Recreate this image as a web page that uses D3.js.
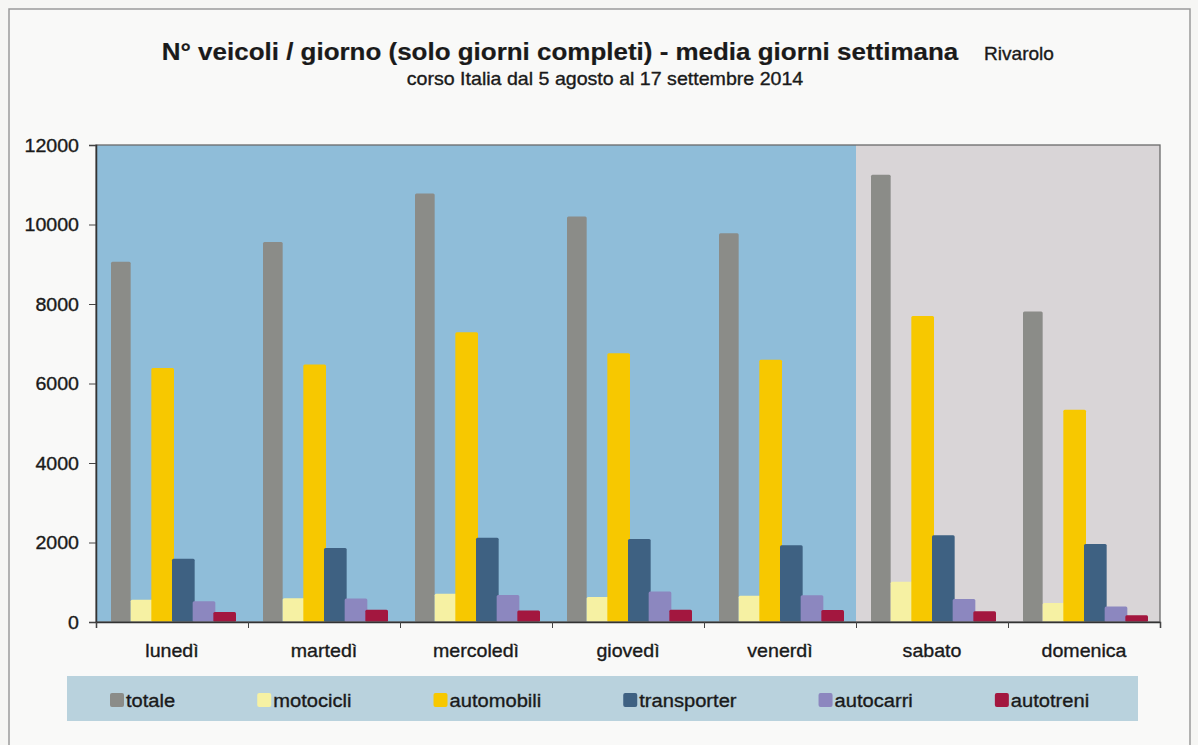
<!DOCTYPE html>
<html>
<head>
<meta charset="utf-8">
<script src="https://cdn.jsdelivr.net/npm/d3@7"></script>
<style>
  html, body { margin: 0; padding: 0; background: #f6f6f4; }
  svg { display: block; }
  text { font-family: "Liberation Sans", Arial, sans-serif; fill: #1a1a1a; stroke: #1a1a1a; stroke-width: 0.35px; }
</style>
</head>
<body>
<svg id="chart" width="1198" height="745"></svg>
<script>
// ---- data ----
const days = ["lunedì", "martedì", "mercoledì", "giovedì", "venerdì", "sabato", "domenica"];
const weekdays = ["lunedì", "martedì", "mercoledì", "giovedì", "venerdì"];
const seriesNames = ["totale", "motocicli", "automobili", "transporter", "autocarri", "autotreni"];
const totale      = [9060, 9560, 10780, 10200, 9780, 11250, 7810];
const motocicli   = [560, 600, 710, 630, 660, 1010, 480];
const automobili  = [6390, 6480, 7290, 6760, 6600, 7700, 5340];
const transporter = [1590, 1860, 2120, 2090, 1930, 2180, 1960];
const autocarri   = [520, 590, 680, 770, 670, 580, 390];
const autotreni   = [250, 310, 290, 310, 300, 270, 170];
const yTicks = [0, 2000, 4000, 6000, 8000, 10000, 12000];
const titleText = "N° veicoli / giorno (solo giorni completi) - media giorni settimana";
const titleSuffix = "Rivarolo";
const subtitleText = "corso Italia dal 5 agosto al 17 settembre 2014";

const seriesValues = [totale, motocicli, automobili, transporter, autocarri, autotreni];
const colors = ["#8b8c88", "#f6f1a3", "#f7c800", "#3e6182", "#8c87bf", "#a3173f"];

// ---- layout ----
const svg = d3.select("#chart");
const SX = 1.06; // horizontal stretch of the scanned text
const plot = { left: 96, right: 1160, top: 145, bottom: 622 };

function stext(parent, x, y, str, size, anchor, weight) {
  return parent.append("text")
    .attr("transform", `translate(${x},${y}) scale(${SX},1)`)
    .attr("text-anchor", anchor || "start")
    .attr("font-size", size)
    .attr("font-weight", weight || "normal")
    .text(str);
}

// frame
svg.append("rect").attr("x", 0).attr("y", 0).attr("width", 1198).attr("height", 745).attr("fill", "#f6f6f4");
svg.append("rect").attr("x", 9).attr("y", 9).attr("width", 1181).attr("height", 760)
  .attr("fill", "#f9f9f8").attr("stroke", "#9a9a9a").attr("stroke-width", 1.5);

// titles
stext(svg, 560, 60, titleText, 24.5, "middle", "bold").style("stroke-width", "0.2px");
stext(svg, 984, 60, titleSuffix, 18, "start");
stext(svg, 605, 85, subtitleText, 18.5, "middle");

// scales
const x0 = d3.scaleBand().domain(days).range([plot.left, plot.right]).padding(0);
const x1 = d3.scaleBand().domain(seriesNames).range([15, 139]).padding(0);
const y = d3.scaleLinear().domain([0, 12000]).range([plot.bottom, plot.top]);

// backgrounds
const lastWeekday = weekdays[weekdays.length - 1];
const split = x0(lastWeekday) + x0.bandwidth();
svg.append("rect").attr("x", plot.left).attr("y", plot.top)
  .attr("width", split - plot.left).attr("height", plot.bottom - plot.top).attr("fill", "#8fbdd9");
svg.append("rect").attr("x", split).attr("y", plot.top)
  .attr("width", plot.right - split).attr("height", plot.bottom - plot.top).attr("fill", "#d9d5d7");

// bars
const groups = svg.append("g").selectAll("g").data(days).join("g")
  .attr("transform", d => `translate(${x0(d)},0)`);
groups.selectAll("rect")
  .data((d, i) => seriesNames.map((s, k) => ({ s, k, v: seriesValues[k][i] })))
  .join("rect")
  .attr("x", d => x1(d.s) - (d.k === 0 ? 0 : 1))
  .attr("y", d => y(d.v))
  .attr("width", d => x1.bandwidth() + (d.k === 0 ? -1 : 2))
  .attr("height", d => y(0) - y(d.v))
  .attr("rx", 1.5)
  .attr("fill", d => colors[d.k]);

// plot border
svg.append("rect").attr("x", plot.left).attr("y", plot.top)
  .attr("width", plot.right - plot.left).attr("height", plot.bottom - plot.top)
  .attr("fill", "none").attr("stroke", "#6a6a6a").attr("stroke-width", 1.3);

// y axis
const yAxis = svg.append("g").attr("transform", `translate(${plot.left},0)`)
  .call(d3.axisLeft(y).tickValues(yTicks).tickSize(7).tickFormat(""));
yAxis.select(".domain").attr("stroke", "#333").attr("stroke-width", 1.5);
yAxis.selectAll(".tick line").attr("stroke", "#444");
yTicks.forEach(t => {
  stext(svg, 79, y(t) + 6.5, String(t), 18.5, "end");
});

// x axis
const bounds = days.map(d => x0(d)).concat([plot.right]);
const xAxis = svg.append("g").attr("transform", `translate(0,${plot.bottom})`)
  .call(d3.axisBottom(d3.scaleLinear().domain([plot.left, plot.right]).range([plot.left, plot.right]))
    .tickValues(bounds).tickSize(6).tickFormat(""));
xAxis.select(".domain").attr("stroke", "#333").attr("stroke-width", 1.5);
xAxis.selectAll(".tick line").attr("stroke", "#444");
days.forEach(d => {
  stext(svg, x0(d) + x0.bandwidth() / 2, 657, d, 18.5, "middle");
});

// legend
svg.append("rect").attr("x", 67).attr("y", 676).attr("width", 1071).attr("height", 45).attr("fill", "#b9d2dd");
let lx = 110;
const gap = 82;
seriesNames.forEach((s, k) => {
  svg.append("rect").attr("x", lx).attr("y", 693).attr("width", 14).attr("height", 14)
    .attr("rx", 2).attr("fill", colors[k]);
  const t = stext(svg, lx + 16, 707, s, 19, "start");
  const w = t.node().getComputedTextLength() * SX;
  lx = lx + 16 + w + gap;
});
</script>
</body>
</html>
